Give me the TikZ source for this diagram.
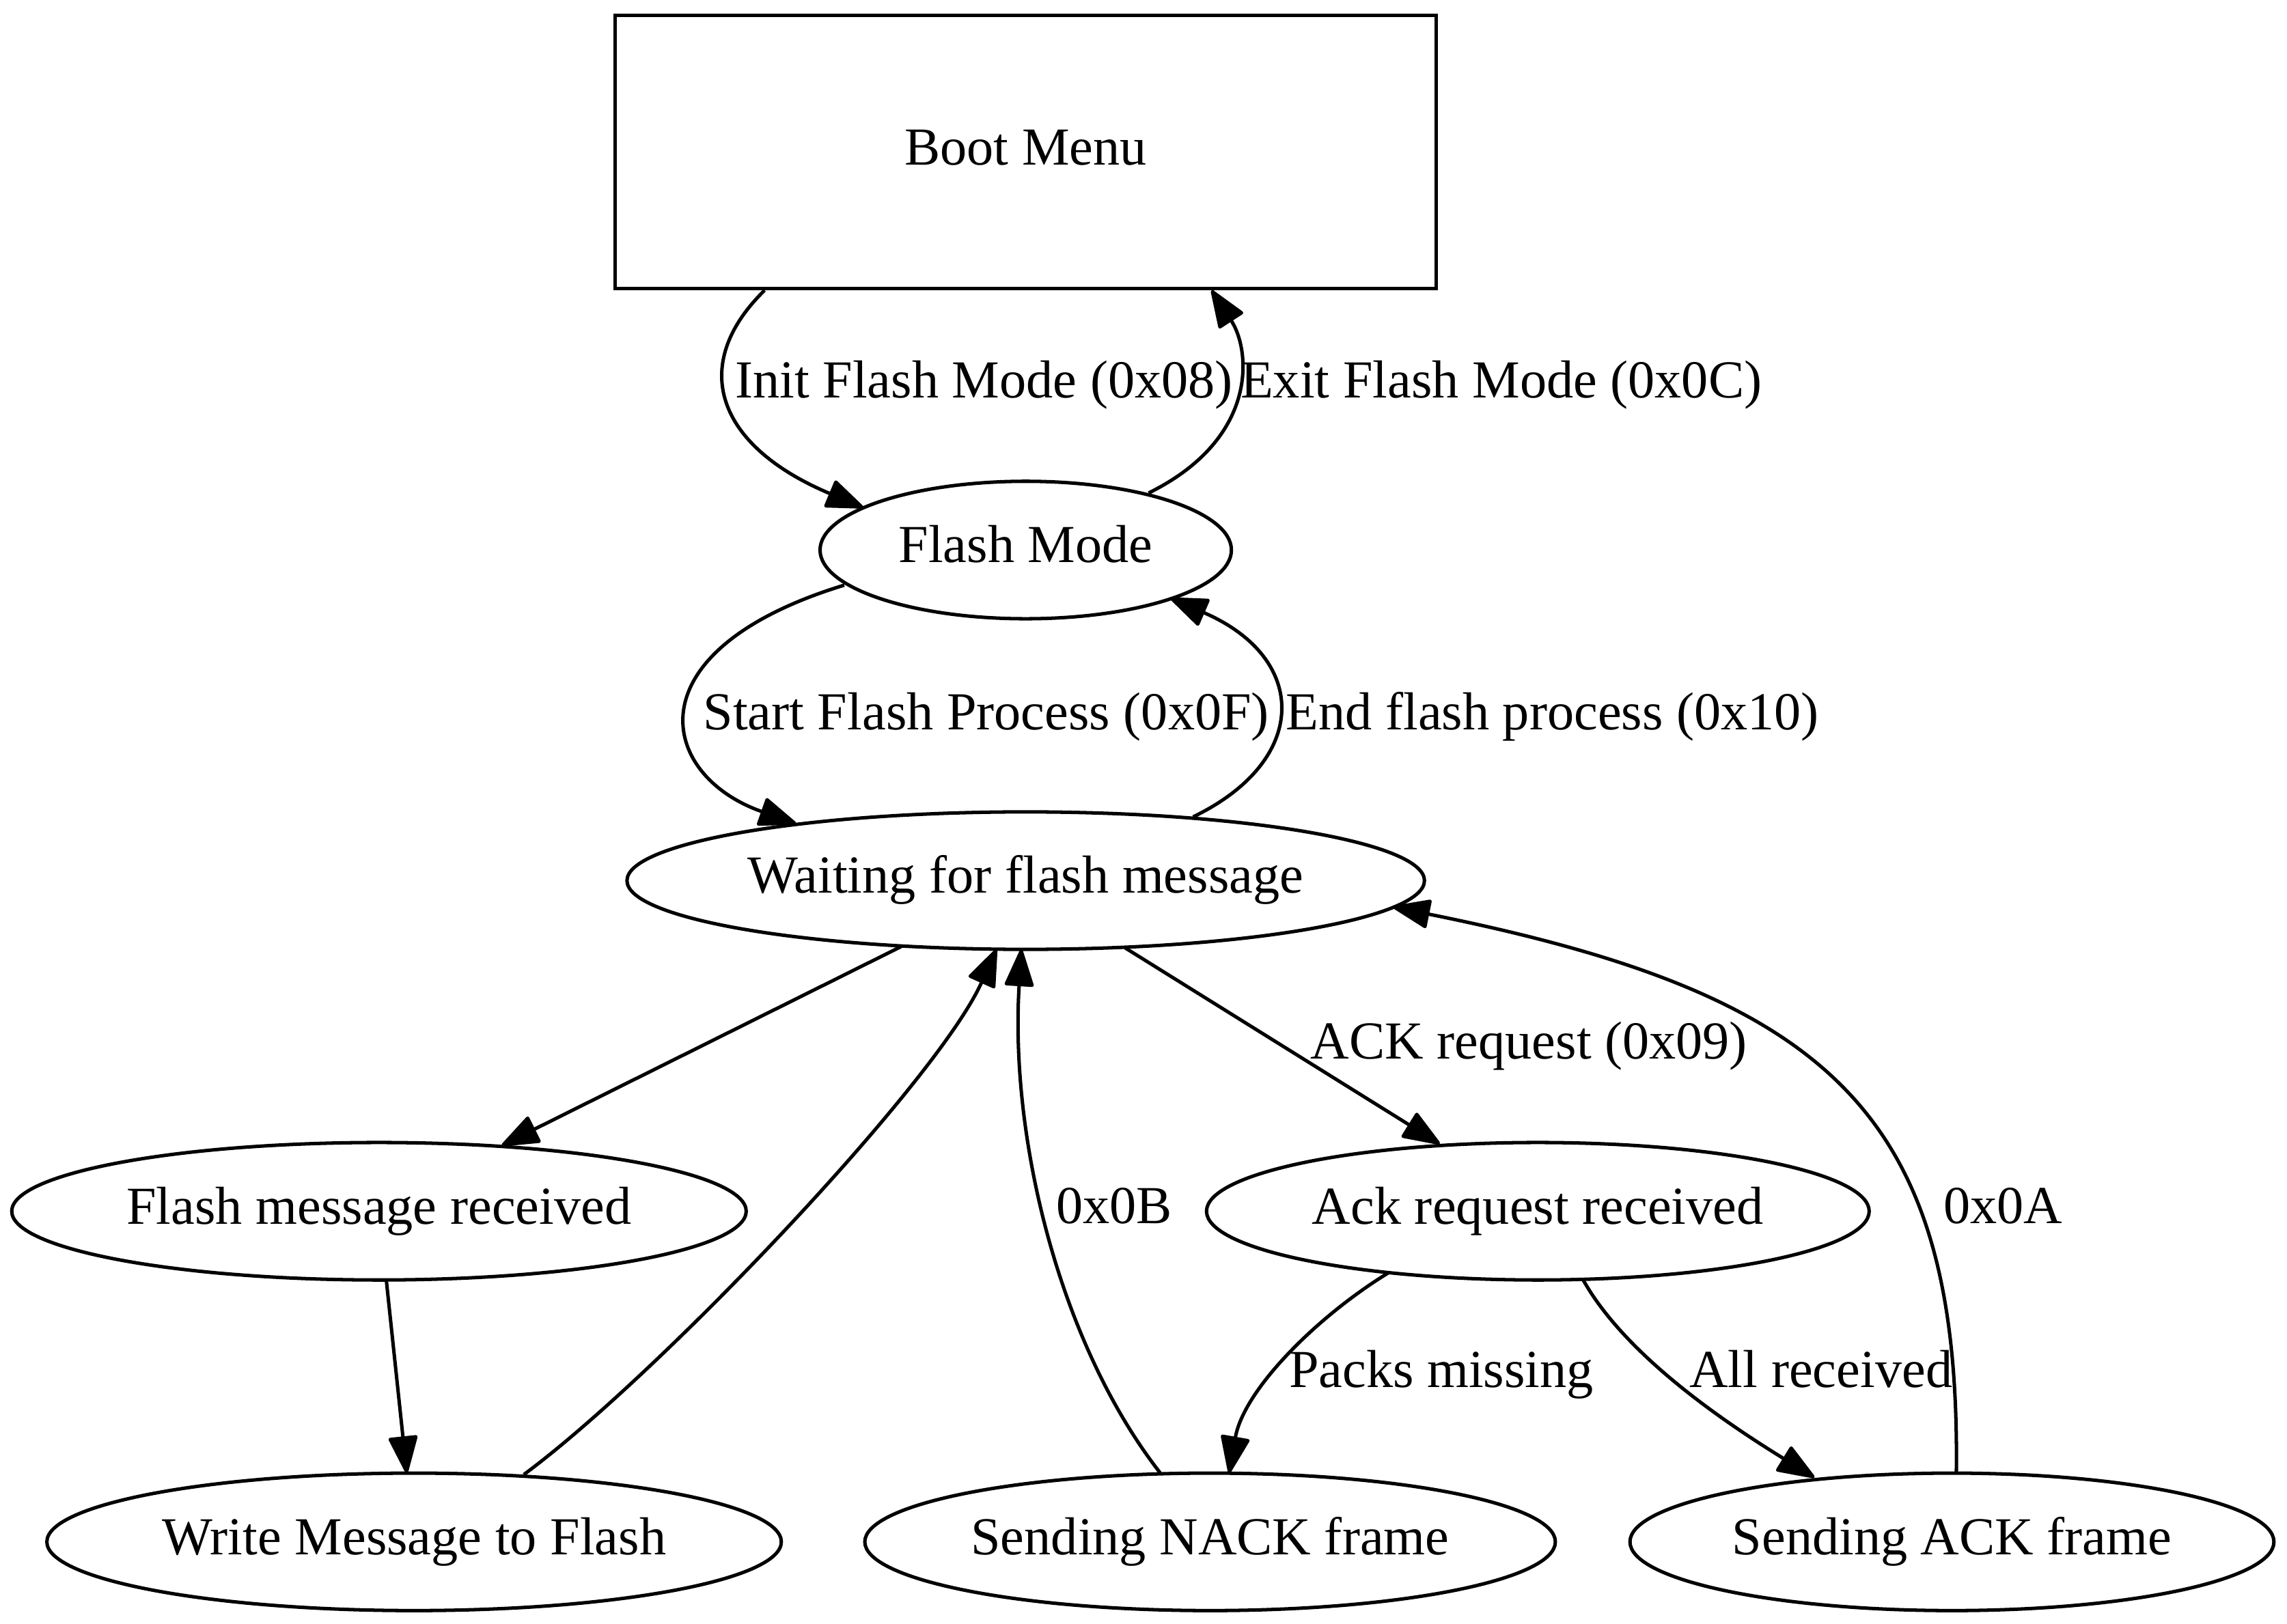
\documentclass[tikz,border=0pt]{standalone}
\usepackage{fontspec}
\setmainfont{Liberation Serif}
\usetikzlibrary{shapes.geometric,arrows.meta,calc}
\begin{document}
\begin{tikzpicture}[x=0.3831pt,y=-0.3831pt,
  every node/.style={font=\fontsize{14}{16}\selectfont},
  state/.style={draw,ellipse,line width=0.9pt,inner sep=0pt,minimum height=36pt,text height=9.6pt,text depth=3pt},
  box/.style={draw,rectangle,line width=0.9pt,inner sep=0pt,minimum width=214.9pt,minimum height=71.5pt,text height=9.6pt,text depth=3pt},
  conn/.style={line width=0.9pt,-{Triangle[length=10.5pt,width=7.8pt,round]}},
  lbl/.style={inner sep=0pt,anchor=base}]
\useasboundingbox (0,0) rectangle (1563,1110);
% nodes
\node[box] (boot) at (701,104) {Boot Menu};
\node[state,minimum width=107.7pt] (fm) at (701,376) {Flash Mode};
\node[state,minimum width=208.8pt] (wait) at (701,602) {Waiting for flash message};
\node[state,minimum width=192.3pt] (fmr) at (259,828) {Flash message received};
\node[state,minimum width=173.5pt] (ack) at (1051,828) {Ack request received};
\node[state,minimum width=192.3pt] (write) at (283,1054) {Write Message to Flash};
\node[state,minimum width=180.8pt] (nack) at (827,1054) {Sending NACK frame};
\node[state,minimum width=168.6pt] (sack) at (1334,1054) {Sending ACK frame};
% edges
\draw[conn] ($(boot.south)+(-178.5,0)$) .. controls (470,250) and (490,305) .. ($(fm)+(-111,-29)$);
\draw[conn] ($(fm)+(84,-39)$) .. controls (860,300) and (855,240) .. ($(boot.south)+(127,0)$);
\draw[conn] ($(fm)+(-124,24)$) .. controls (430,445) and (450,530) .. ($(wait)+(-157,-39)$);
\draw[conn] ($(wait)+(114.4,-43.6)$) .. controls (895,520) and (895,450) .. ($(fm)+(99,33)$);
\draw[conn] ($(wait)+(-85,45)$) -- ($(fmr)+(84,-45)$);
\draw[conn] ($(fmr)+(5,47)$) -- ($(write)+(-5,-47)$);
\draw[conn] ($(write)+(75,-46)$) .. controls (450,940) and (640,740) .. ($(wait)+(-20,47)$);
\draw[conn] ($(wait)+(68,46)$) -- ($(ack)+(-67,-46)$);
\draw[conn] ($(ack)+(-102,42)$) .. controls (900,900) and (850,950) .. ($(nack)+(13,-47)$);
\draw[conn] ($(ack)+(31,47)$) .. controls (1110,925) and (1175,970) .. ($(sack)+(-94,-44)$);
\draw[conn] ($(nack)+(-34,-47)$) .. controls (725,920) and (690,780) .. ($(wait)+(-3,47)$);
\draw[conn] ($(sack)+(3,-47)$) .. controls (1340,760) and (1250,680) .. ($(wait)+(251,18)$);
% labels
\node[lbl] (l1) at (672.5,272) {Init Flash Mode (0x08)};
\node[lbl] (l2) at (1026,272) {Exit Flash Mode (0x0C)};
\node[lbl] (l3) at (674,499) {Start Flash Process (0x0F)};
\node[lbl] (l4) at (1061,499) {End flash process (0x10)};
\node[lbl] (l5) at (1045,724) {ACK request (0x09)};
\node[lbl] (l6) at (761.5,836.4) {0x0B};
\node[lbl] (l7) at (1369,836.4) {0x0A};
\node[lbl] (l8) at (985,948.6) {Packs missing};
\node[lbl] (l9) at (1244.5,948.6) {All received};
\end{tikzpicture}
\end{document}
